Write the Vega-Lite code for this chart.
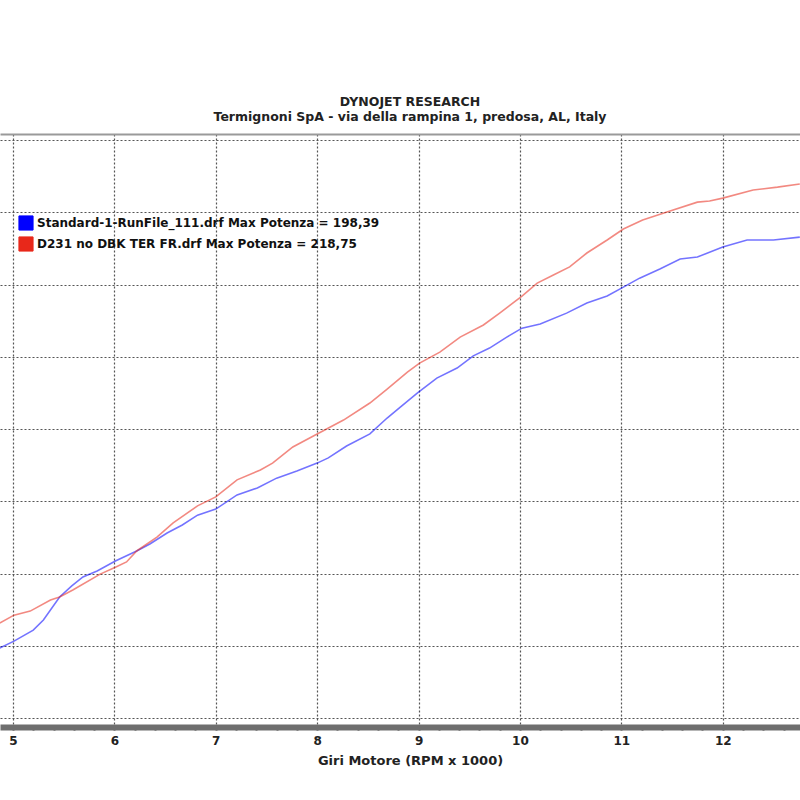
{
  "$schema": "https://vega.github.io/schema/vega-lite/v6.json",
  "width": 800,
  "height": 593,
  "autosize": {"type": "none"},
  "padding": {"top": 134, "left": 0, "right": 0, "bottom": 73},
  "background": "white",
  "config": {"view": {"stroke": null}},
  "title": {
    "text": ["DYNOJET RESEARCH", "Termignoni SpA - via della rampina 1, predosa, AL,  Italy"],
    "font": "DejaVu Sans", "fontSize": 12.5, "fontWeight": "bold", "color": "#222",
    "lineHeight": 15, "anchor": "middle", "dx": 10, "offset": 11
  },
  "data": {"values": [
    {"run": "Standard-1-RunFile_111.drf Max Potenza = 198,39", "rpm": 4.87, "hp": 24.2},
    {"run": "Standard-1-RunFile_111.drf Max Potenza = 198,39", "rpm": 5.01, "hp": 26.6},
    {"run": "Standard-1-RunFile_111.drf Max Potenza = 198,39", "rpm": 5.20, "hp": 30.4},
    {"run": "Standard-1-RunFile_111.drf Max Potenza = 198,39", "rpm": 5.30, "hp": 33.9},
    {"run": "Standard-1-RunFile_111.drf Max Potenza = 198,39", "rpm": 5.46, "hp": 41.9},
    {"run": "Standard-1-RunFile_111.drf Max Potenza = 198,39", "rpm": 5.58, "hp": 45.7},
    {"run": "Standard-1-RunFile_111.drf Max Potenza = 198,39", "rpm": 5.69, "hp": 48.8},
    {"run": "Standard-1-RunFile_111.drf Max Potenza = 198,39", "rpm": 5.83, "hp": 50.9},
    {"run": "Standard-1-RunFile_111.drf Max Potenza = 198,39", "rpm": 6.01, "hp": 54.3},
    {"run": "Standard-1-RunFile_111.drf Max Potenza = 198,39", "rpm": 6.22, "hp": 57.8},
    {"run": "Standard-1-RunFile_111.drf Max Potenza = 198,39", "rpm": 6.35, "hp": 60.2},
    {"run": "Standard-1-RunFile_111.drf Max Potenza = 198,39", "rpm": 6.52, "hp": 64.0},
    {"run": "Standard-1-RunFile_111.drf Max Potenza = 198,39", "rpm": 6.67, "hp": 66.8},
    {"run": "Standard-1-RunFile_111.drf Max Potenza = 198,39", "rpm": 6.82, "hp": 70.2},
    {"run": "Standard-1-RunFile_111.drf Max Potenza = 198,39", "rpm": 7.00, "hp": 72.3},
    {"run": "Standard-1-RunFile_111.drf Max Potenza = 198,39", "rpm": 7.21, "hp": 77.2},
    {"run": "Standard-1-RunFile_111.drf Max Potenza = 198,39", "rpm": 7.41, "hp": 79.6},
    {"run": "Standard-1-RunFile_111.drf Max Potenza = 198,39", "rpm": 7.60, "hp": 83.0},
    {"run": "Standard-1-RunFile_111.drf Max Potenza = 198,39", "rpm": 7.80, "hp": 85.5},
    {"run": "Standard-1-RunFile_111.drf Max Potenza = 198,39", "rpm": 8.00, "hp": 88.2},
    {"run": "Standard-1-RunFile_111.drf Max Potenza = 198,39", "rpm": 8.11, "hp": 90.0},
    {"run": "Standard-1-RunFile_111.drf Max Potenza = 198,39", "rpm": 8.29, "hp": 94.1},
    {"run": "Standard-1-RunFile_111.drf Max Potenza = 198,39", "rpm": 8.52, "hp": 98.3},
    {"run": "Standard-1-RunFile_111.drf Max Potenza = 198,39", "rpm": 8.69, "hp": 103.8},
    {"run": "Standard-1-RunFile_111.drf Max Potenza = 198,39", "rpm": 8.82, "hp": 107.6},
    {"run": "Standard-1-RunFile_111.drf Max Potenza = 198,39", "rpm": 8.99, "hp": 112.5},
    {"run": "Standard-1-RunFile_111.drf Max Potenza = 198,39", "rpm": 9.18, "hp": 117.6},
    {"run": "Standard-1-RunFile_111.drf Max Potenza = 198,39", "rpm": 9.38, "hp": 121.1},
    {"run": "Standard-1-RunFile_111.drf Max Potenza = 198,39", "rpm": 9.54, "hp": 125.3},
    {"run": "Standard-1-RunFile_111.drf Max Potenza = 198,39", "rpm": 9.70, "hp": 128.0},
    {"run": "Standard-1-RunFile_111.drf Max Potenza = 198,39", "rpm": 9.87, "hp": 131.8},
    {"run": "Standard-1-RunFile_111.drf Max Potenza = 198,39", "rpm": 10.02, "hp": 134.9},
    {"run": "Standard-1-RunFile_111.drf Max Potenza = 198,39", "rpm": 10.20, "hp": 136.3},
    {"run": "Standard-1-RunFile_111.drf Max Potenza = 198,39", "rpm": 10.46, "hp": 140.1},
    {"run": "Standard-1-RunFile_111.drf Max Potenza = 198,39", "rpm": 10.66, "hp": 143.6},
    {"run": "Standard-1-RunFile_111.drf Max Potenza = 198,39", "rpm": 10.86, "hp": 146.0},
    {"run": "Standard-1-RunFile_111.drf Max Potenza = 198,39", "rpm": 11.02, "hp": 149.1},
    {"run": "Standard-1-RunFile_111.drf Max Potenza = 198,39", "rpm": 11.18, "hp": 152.2},
    {"run": "Standard-1-RunFile_111.drf Max Potenza = 198,39", "rpm": 11.38, "hp": 155.4},
    {"run": "Standard-1-RunFile_111.drf Max Potenza = 198,39", "rpm": 11.58, "hp": 158.8},
    {"run": "Standard-1-RunFile_111.drf Max Potenza = 198,39", "rpm": 11.75, "hp": 159.5},
    {"run": "Standard-1-RunFile_111.drf Max Potenza = 198,39", "rpm": 12.00, "hp": 163.0},
    {"run": "Standard-1-RunFile_111.drf Max Potenza = 198,39", "rpm": 12.24, "hp": 165.4},
    {"run": "Standard-1-RunFile_111.drf Max Potenza = 198,39", "rpm": 12.50, "hp": 165.4},
    {"run": "Standard-1-RunFile_111.drf Max Potenza = 198,39", "rpm": 12.76, "hp": 166.4},
    {"run": "D231 no DBK TER FR.drf Max Potenza = 218,75", "rpm": 4.87, "hp": 32.9},
    {"run": "D231 no DBK TER FR.drf Max Potenza = 218,75", "rpm": 5.01, "hp": 35.6},
    {"run": "D231 no DBK TER FR.drf Max Potenza = 218,75", "rpm": 5.17, "hp": 37.0},
    {"run": "D231 no DBK TER FR.drf Max Potenza = 218,75", "rpm": 5.37, "hp": 40.8},
    {"run": "D231 no DBK TER FR.drf Max Potenza = 218,75", "rpm": 5.46, "hp": 41.9},
    {"run": "D231 no DBK TER FR.drf Max Potenza = 218,75", "rpm": 5.59, "hp": 44.3},
    {"run": "D231 no DBK TER FR.drf Max Potenza = 218,75", "rpm": 5.86, "hp": 49.8},
    {"run": "D231 no DBK TER FR.drf Max Potenza = 218,75", "rpm": 6.01, "hp": 52.2},
    {"run": "D231 no DBK TER FR.drf Max Potenza = 218,75", "rpm": 6.12, "hp": 54.0},
    {"run": "D231 no DBK TER FR.drf Max Potenza = 218,75", "rpm": 6.22, "hp": 57.8},
    {"run": "D231 no DBK TER FR.drf Max Potenza = 218,75", "rpm": 6.42, "hp": 62.6},
    {"run": "D231 no DBK TER FR.drf Max Potenza = 218,75", "rpm": 6.58, "hp": 67.5},
    {"run": "D231 no DBK TER FR.drf Max Potenza = 218,75", "rpm": 6.82, "hp": 73.4},
    {"run": "D231 no DBK TER FR.drf Max Potenza = 218,75", "rpm": 7.00, "hp": 76.5},
    {"run": "D231 no DBK TER FR.drf Max Potenza = 218,75", "rpm": 7.21, "hp": 82.4},
    {"run": "D231 no DBK TER FR.drf Max Potenza = 218,75", "rpm": 7.44, "hp": 85.8},
    {"run": "D231 no DBK TER FR.drf Max Potenza = 218,75", "rpm": 7.56, "hp": 88.2},
    {"run": "D231 no DBK TER FR.drf Max Potenza = 218,75", "rpm": 7.76, "hp": 93.8},
    {"run": "D231 no DBK TER FR.drf Max Potenza = 218,75", "rpm": 8.00, "hp": 98.3},
    {"run": "D231 no DBK TER FR.drf Max Potenza = 218,75", "rpm": 8.26, "hp": 103.1},
    {"run": "D231 no DBK TER FR.drf Max Potenza = 218,75", "rpm": 8.52, "hp": 109.0},
    {"run": "D231 no DBK TER FR.drf Max Potenza = 218,75", "rpm": 8.69, "hp": 113.8},
    {"run": "D231 no DBK TER FR.drf Max Potenza = 218,75", "rpm": 8.89, "hp": 119.7},
    {"run": "D231 no DBK TER FR.drf Max Potenza = 218,75", "rpm": 9.01, "hp": 122.8},
    {"run": "D231 no DBK TER FR.drf Max Potenza = 218,75", "rpm": 9.21, "hp": 126.6},
    {"run": "D231 no DBK TER FR.drf Max Potenza = 218,75", "rpm": 9.41, "hp": 131.8},
    {"run": "D231 no DBK TER FR.drf Max Potenza = 218,75", "rpm": 9.64, "hp": 136.0},
    {"run": "D231 no DBK TER FR.drf Max Potenza = 218,75", "rpm": 9.80, "hp": 140.1},
    {"run": "D231 no DBK TER FR.drf Max Potenza = 218,75", "rpm": 10.02, "hp": 146.0},
    {"run": "D231 no DBK TER FR.drf Max Potenza = 218,75", "rpm": 10.17, "hp": 150.5},
    {"run": "D231 no DBK TER FR.drf Max Potenza = 218,75", "rpm": 10.33, "hp": 153.3},
    {"run": "D231 no DBK TER FR.drf Max Potenza = 218,75", "rpm": 10.49, "hp": 156.1},
    {"run": "D231 no DBK TER FR.drf Max Potenza = 218,75", "rpm": 10.66, "hp": 160.9},
    {"run": "D231 no DBK TER FR.drf Max Potenza = 218,75", "rpm": 10.86, "hp": 165.4},
    {"run": "D231 no DBK TER FR.drf Max Potenza = 218,75", "rpm": 11.02, "hp": 169.2},
    {"run": "D231 no DBK TER FR.drf Max Potenza = 218,75", "rpm": 11.21, "hp": 172.3},
    {"run": "D231 no DBK TER FR.drf Max Potenza = 218,75", "rpm": 11.45, "hp": 175.1},
    {"run": "D231 no DBK TER FR.drf Max Potenza = 218,75", "rpm": 11.75, "hp": 178.5},
    {"run": "D231 no DBK TER FR.drf Max Potenza = 218,75", "rpm": 11.87, "hp": 178.9},
    {"run": "D231 no DBK TER FR.drf Max Potenza = 218,75", "rpm": 12.00, "hp": 179.9},
    {"run": "D231 no DBK TER FR.drf Max Potenza = 218,75", "rpm": 12.30, "hp": 182.7},
    {"run": "D231 no DBK TER FR.drf Max Potenza = 218,75", "rpm": 12.54, "hp": 183.7},
    {"run": "D231 no DBK TER FR.drf Max Potenza = 218,75", "rpm": 12.76, "hp": 184.8}
  ]},
  "mark": {"type": "line", "strokeWidth": 1.6, "opacity": 0.55, "clip": true},
  "encoding": {
    "x": {
      "field": "rpm", "type": "quantitative",
      "scale": {"domain": [4.872, 12.762], "nice": false, "zero": false},
      "axis": {
        "values": [5, 5.2, 5.4, 5.6, 5.8, 6, 6.2, 6.4, 6.6, 6.8, 7, 7.2, 7.4, 7.6, 7.8, 8, 8.2, 8.4, 8.6, 8.8, 9, 9.2, 9.4, 9.6, 9.8, 10, 10.2, 10.4, 10.6, 10.8, 11, 11.2, 11.4, 11.6, 11.8, 12, 12.2, 12.4, 12.6],
        "labelExpr": "abs(datum.value - round(datum.value)) < 0.01 ? '' + round(datum.value) : ''",
        "labelOverlap": false,
        "grid": true,
        "gridOpacity": {"condition": {"test": "abs(datum.value - round(datum.value)) < 0.01", "value": 1}, "value": 0},
        "gridColor": "#555", "gridDash": [2, 2], "gridWidth": 1.2,
        "domain": true, "domainColor": "#6e6e6e", "domainWidth": 6,
        "ticks": true, "tickColor": "#333", "tickSize": 3, "tickWidth": 2,
        "labelFont": "DejaVu Sans", "labelFontSize": 12, "labelFontWeight": "bold", "labelColor": "#222",
        "labelPadding": 5, "labelFlush": false,
        "title": "Giri Motore (RPM x 1000)",
        "titleFont": "DejaVu Sans", "titleFontSize": 13, "titleFontWeight": "bold", "titleColor": "#222",
        "titlePadding": 8, "titleX": 410, "titleAnchor": "middle"
      }
    },
    "y": {
      "field": "hp", "type": "quantitative",
      "scale": {"domain": [-3.11, 202.08], "nice": false, "zero": false},
      "axis": {
        "values": [0, 25, 50, 75, 100, 125, 150, 175, 200, 202],
        "labels": false, "ticks": false, "domain": false, "title": null,
        "grid": true,
        "gridColor": {"condition": {"test": "datum.value > 201", "value": "#9a9a9a"}, "value": "#555"},
        "gridDash": {"condition": {"test": "datum.value > 201", "value": []}, "value": [2, 2]},
        "gridWidth": {"condition": {"test": "datum.value > 201", "value": 2}, "value": 1.2}
      }
    },
    "color": {
      "field": "run", "type": "nominal",
      "scale": {
        "domain": ["Standard-1-RunFile_111.drf Max Potenza = 198,39", "D231 no DBK TER FR.drf Max Potenza = 218,75"],
        "range": ["#0000ff", "#e8281a"]
      },
      "legend": {
        "orient": "none", "legendX": 18, "legendY": 81, "title": null,
        "symbolType": "square", "symbolSize": 200, "symbolOpacity": 1, "symbolStrokeWidth": 1,
        "labelFont": "DejaVu Sans", "labelFontSize": 12, "labelFontWeight": "bold", "labelColor": "#111",
        "labelLimit": 0, "labelOffset": 3, "rowPadding": 1,
        "encode": {"symbols": {"update": {"fill": {"scale": "color", "field": "value"}, "stroke": {"value": "#444"}, "opacity": {"value": 1}}}}
      }
    }
  }
}
